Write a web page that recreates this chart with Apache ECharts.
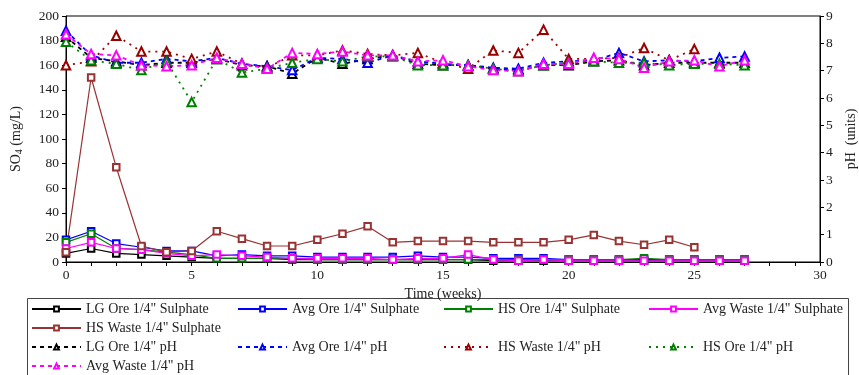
<!DOCTYPE html>
<html>
<head>
<meta charset="utf-8">
<script src="https://cdn.jsdelivr.net/npm/echarts@6/dist/echarts.min.js"></script>
<style>
  html, body { margin: 0; padding: 0; background: #fff; }
  #chart { width: 859px; height: 375px; }
</style>
</head>
<body>
<div id="chart"></div>
<script>
// Weeks of leaching
var weeks = [0,1,2,3,4,5,6,7,8,9,10,11,12,13,14,15,16,17,18,19,20,21,22,23,24,25,26,27];

// Sulphate concentration (mg/L)
var lgOreSulphate    = [7,11,7,6,5,4,3,3,3,2,2,2,2,2,2,2,2,1,1,1,1,1,1,1,1,1,1,1];
var avgOreSulphate   = [18,25,15,12,9,9,5,6,5,5,4,4,4,4,5,4,4,3,3,3,2,2,2,2,2,2,2,2];
var hsOreSulphate    = [16,23,11,10,8,6,3,3,3,3,2,2,2,2,2,2,2,2,2,2,2,2,2,3,2,2,2,2];
var avgWasteSulphate = [11,16,11,10,7,5,6,5,4,3,3,3,3,2,3,3,6,2,1,2,1,1,1,1,1,1,1,1];
var hsWasteSulphate  = [8,150,77,13,8,9,25,19,13,13,18,23,29,16,17,17,17,16,16,16,18,22,17,14,18,12];

// pH (units)
var lgOrePH    = [8.24,7.47,7.34,7.20,7.29,7.29,7.43,7.20,7.16,6.89,7.47,7.25,7.43,7.56,7.25,7.20,7.20,7.07,7.02,7.20,7.20,7.34,7.38,7.20,7.29,7.29,7.29,7.29];
var avgOrePH   = [8.46,7.56,7.29,7.29,7.43,7.34,7.47,7.25,7.16,7.02,7.47,7.43,7.29,7.56,7.34,7.25,7.20,7.11,7.07,7.29,7.34,7.38,7.65,7.34,7.38,7.34,7.47,7.52];
var hsWastePH  = [7.20,7.34,8.28,7.70,7.70,7.43,7.70,7.25,7.11,7.56,7.56,7.74,7.61,7.56,7.65,7.29,7.07,7.74,7.65,8.50,7.43,7.43,7.47,7.83,7.38,7.79];
var hsOrePH    = [8.06,7.38,7.25,7.02,7.34,5.85,7.43,6.93,7.07,7.29,7.43,7.34,7.52,7.52,7.20,7.20,7.20,7.07,6.98,7.20,7.29,7.34,7.29,7.29,7.20,7.25,7.25,7.20];
var avgWastePH = [8.33,7.61,7.56,7.20,7.16,7.20,7.47,7.25,7.07,7.65,7.61,7.70,7.56,7.56,7.34,7.38,7.16,7.02,6.98,7.25,7.25,7.47,7.43,7.11,7.34,7.38,7.16,7.38];

// Axis ranges
var xMin = 0, xMax = 30, xStep = 5;
var so4Min = 0, so4Max = 200, so4Step = 20;
var phMin = 0, phMax = 9, phStep = 1;

var FONT = '"Liberation Serif", "DejaVu Serif", serif';

function pairs(values) {
  return values.map(function (v, i) { return [weeks[i], v]; });
}

function sulphateSeries(name, color, values) {
  return {
    name: name, type: 'line', yAxisIndex: 0,
    data: pairs(values),
    symbol: 'emptyRect', symbolSize: 6.5,
    lineStyle: { color: color, width: 1.2 },
    itemStyle: { color: color, borderColor: color, borderWidth: 1 },
    z: 3
  };
}

function phSeries(name, color, values, dash) {
  return {
    name: name, type: 'line', yAxisIndex: 1,
    data: pairs(values),
    symbol: 'emptyTriangle', symbolSize: 8.5,
    lineStyle: { color: color, width: 1.8, type: dash },
    itemStyle: { color: color, borderColor: color, borderWidth: 1.1 },
    z: 4
  };
}

var series = [
  sulphateSeries('LG Ore 1/4" Sulphate', '#000000', lgOreSulphate),
  sulphateSeries('Avg Ore 1/4" Sulphate', '#0000ff', avgOreSulphate),
  sulphateSeries('HS Ore 1/4" Sulphate', '#008000', hsOreSulphate),
  sulphateSeries('Avg Waste 1/4" Sulphate', '#ff00ff', avgWasteSulphate),
  sulphateSeries('HS Waste 1/4" Sulphate', '#993333', hsWasteSulphate),
  phSeries('LG Ore 1/4" pH', '#000000', lgOrePH, [4, 4]),
  phSeries('Avg Ore 1/4" pH', '#0000ff', avgOrePH, [4, 4]),
  phSeries('HS Waste 1/4" pH', '#990000', hsWastePH, [2, 5]),
  phSeries('HS Ore 1/4" pH', '#008000', hsOrePH, [2, 5]),
  phSeries('Avg Waste 1/4" pH', '#ff00ff', avgWastePH, [4, 4])
];

// Legend entries laid out in four columns
var colX = [31, 237, 443, 648];
var rowY = [308, 327, 346, 365];
var legendSlots = [
  [0, 0], [1, 0], [2, 0], [3, 0],
  [0, 1],
  [0, 2], [1, 2], [2, 2], [3, 2],
  [0, 3]
];

var legends = series.map(function (s, k) {
  var slot = legendSlots[k];
  return {
    data: [s.name],
    left: colX[slot[0]],
    top: rowY[slot[1]] - 6,
    orient: 'horizontal',
    itemWidth: 49,
    itemHeight: 6,
    padding: 0,
    textStyle: { fontFamily: FONT, fontSize: 14, color: '#222' },
    selectedMode: false
  };
});

var chart = echarts.init(document.getElementById('chart'), null, { renderer: 'canvas' });
chart.setOption({
  animation: false,
  backgroundColor: '#ffffff',
  grid: {
    left: 66, right: 39, top: 16, bottom: 113,
    outerBoundsMode: 'none',
    containLabel: false,
    show: true, borderColor: '#000', borderWidth: 1, backgroundColor: 'transparent'
  },
  legend: legends,
  graphic: [{
    type: 'rect',
    shape: { x: 27.5, y: 298.5, width: 821, height: 90 },
    style: { fill: 'none', stroke: '#444', lineWidth: 1 },
    z: -1
  }],
  xAxis: {
    type: 'value', min: xMin, max: xMax, interval: xStep,
    name: 'Time (weeks)', nameLocation: 'middle', nameGap: 17,
    nameTextStyle: { fontFamily: FONT, fontSize: 14, color: '#222' },
    axisLine: { onZero: false, lineStyle: { color: '#000', width: 1 } },
    axisTick: { show: true, length: 4, lineStyle: { color: '#000' } },
    minorTick: { show: true, splitNumber: 5, length: 4, lineStyle: { color: '#000' } },
    axisLabel: { fontFamily: FONT, fontSize: 13.5, color: '#222', margin: 6 },
    splitLine: { show: false }
  },
  yAxis: [{
    type: 'value', min: so4Min, max: so4Max, interval: so4Step, position: 'left',
    name: 'SO{sub|4} (mg/L)', nameLocation: 'middle', nameGap: 42, nameRotate: 90,
    nameTextStyle: {
      fontFamily: FONT, fontSize: 14, color: '#222',
      rich: { sub: { fontFamily: FONT, fontSize: 10, color: '#222', verticalAlign: 'bottom', padding: [6, 0, 0, 0] } }
    },
    axisLine: { show: true, lineStyle: { color: '#000', width: 1 } },
    axisTick: { show: true, length: 4, inside: false, lineStyle: { color: '#000' } },
    axisLabel: { fontFamily: FONT, fontSize: 13.5, color: '#222', margin: 7 },
    splitLine: { show: false }
  }, {
    type: 'value', min: phMin, max: phMax, interval: phStep, position: 'right',
    name: 'pH  (units)', nameLocation: 'middle', nameGap: 24, nameRotate: 90,
    nameTextStyle: { fontFamily: FONT, fontSize: 14, color: '#222' },
    axisLine: { show: true, lineStyle: { color: '#000', width: 1 } },
    axisTick: { show: true, length: 4, inside: false, lineStyle: { color: '#000' } },
    axisLabel: { fontFamily: FONT, fontSize: 13.5, color: '#222', margin: 6 },
    splitLine: { show: false }
  }],
  series: series
});
</script>
</body>
</html>
